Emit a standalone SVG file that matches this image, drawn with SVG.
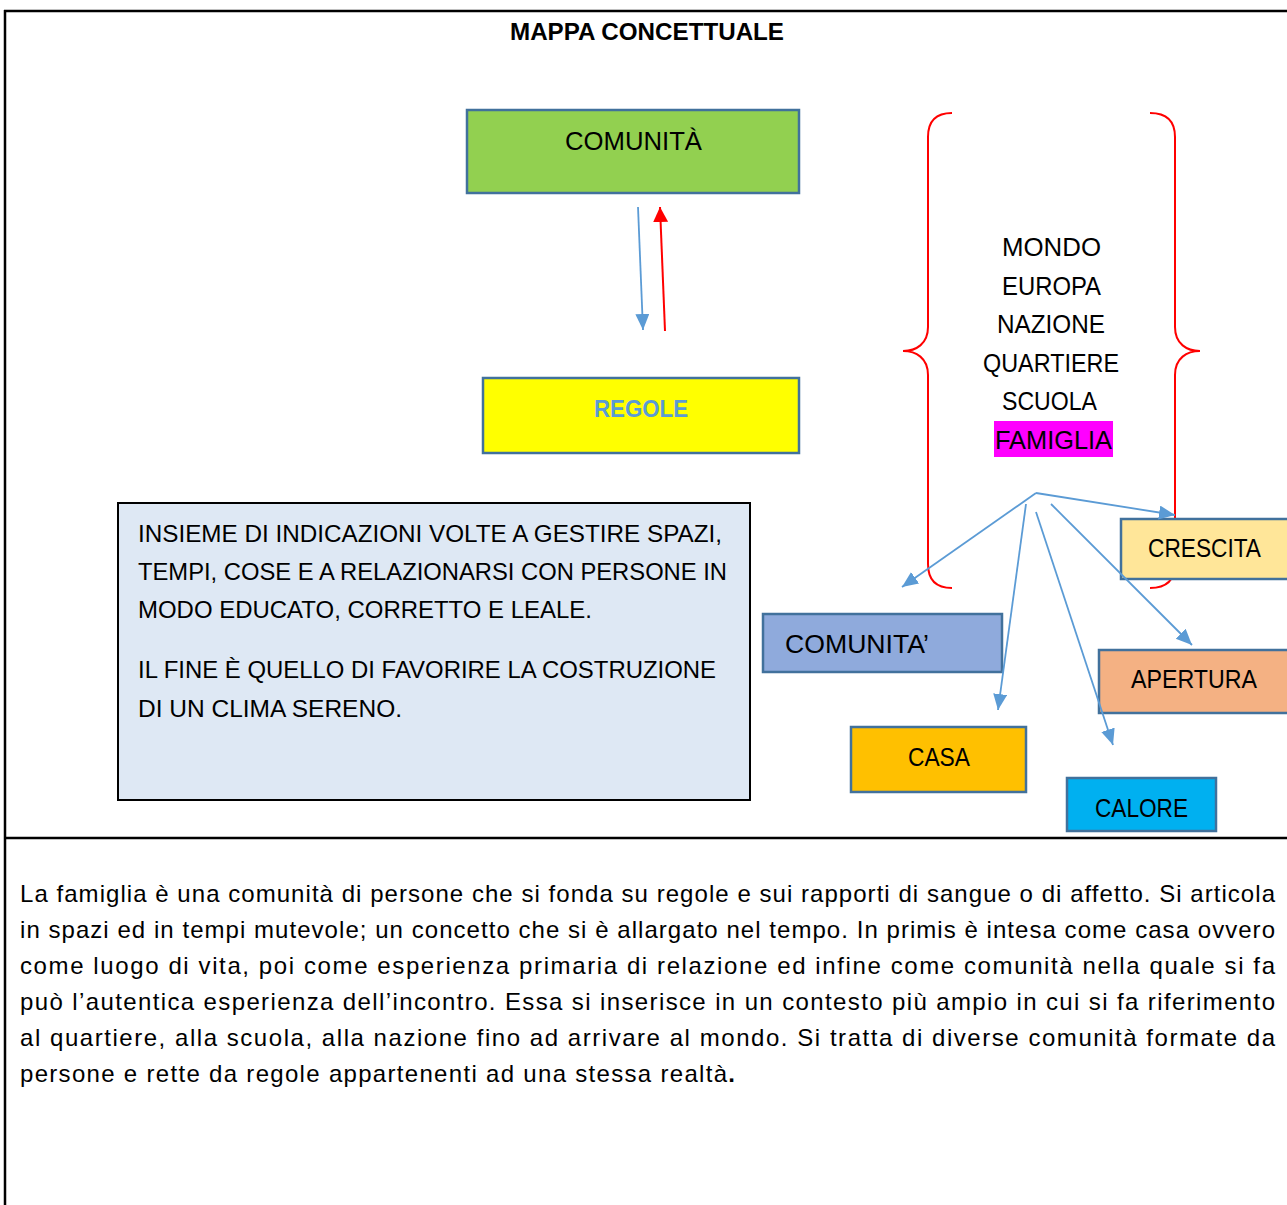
<svg xmlns="http://www.w3.org/2000/svg" width="1287" height="1205" viewBox="0 0 1287 1205">
<style>
text{font-family:"Liberation Sans","Open Sans",Arial,sans-serif;fill:#000}
.lbl{font-size:26px}
.box{stroke:#41719c;stroke-width:2.5}
.small{font-size:24px}
.par{font-size:24px}
.conn{fill:none;stroke:#5b9bd5;stroke-width:1.8}
.frame{stroke:#000;stroke-width:2.5;fill:none}
</style>
<defs>
<marker id="ab" markerUnits="userSpaceOnUse" markerWidth="20" markerHeight="20" refX="16" refY="7" orient="auto">
<path d="M0,0 L16,7 L0,14 Z" fill="#5b9bd5"/>
</marker>
<marker id="ar" markerUnits="userSpaceOnUse" markerWidth="20" markerHeight="20" refX="15" refY="7.5" orient="auto">
<path d="M0,0 L15,7.5 L0,15 Z" fill="#ff0000"/>
</marker>
</defs>
<rect width="1287" height="1205" fill="#fff"/>
<g id="frame">
<line class="frame" x1="4" y1="11" x2="1287" y2="11"/>
<line class="frame" x1="5" y1="10" x2="5" y2="1205"/>
<line class="frame" x1="4" y1="838" x2="1287" y2="838"/>
</g>
<g id="title"><text x="510" y="40" font-size="24" font-weight="bold" textLength="274" lengthAdjust="spacingAndGlyphs">MAPPA CONCETTUALE</text></g>
<g id="braces" fill="none" stroke="#ff0000" stroke-width="2">
<path d="M952,113 C936,113 928,121 928,137 L928,327 C928,344 916,351 903,351 C916,351 928,358 928,375 L928,564 C928,580 936,588 952,588"/>
<path d="M1150,113 C1166,113 1175,121 1175,137 L1175,327 C1175,344 1187,351 1200,351 C1187,351 1175,358 1175,375 L1175,564 C1175,580 1166,588 1150,588"/>
</g>
<g id="n-comunita">
<rect class="box" x="467" y="110" width="332" height="83" fill="#92d050"/>
<text class="lbl" x="565" y="150" textLength="137" lengthAdjust="spacingAndGlyphs">COMUNITÀ</text>
</g>
<g id="n-regole">
<rect class="box" x="483" y="378" width="316" height="75" fill="#ffff00"/>
<text x="594" y="417" font-size="24" font-weight="bold" style="fill:#5b9bd5" textLength="94" lengthAdjust="spacingAndGlyphs">REGOLE</text>
</g>
<g id="n-list">
<rect x="994" y="421" width="119" height="36" fill="#ff00ff"/>
<text class="lbl" x="1002" y="256" textLength="99" lengthAdjust="spacingAndGlyphs">MONDO</text>
<text class="lbl" x="1002" y="295" textLength="99" lengthAdjust="spacingAndGlyphs">EUROPA</text>
<text class="lbl" x="997" y="333" textLength="108" lengthAdjust="spacingAndGlyphs">NAZIONE</text>
<text class="lbl" x="983" y="372" textLength="136" lengthAdjust="spacingAndGlyphs">QUARTIERE</text>
<text class="lbl" x="1002" y="410" textLength="95" lengthAdjust="spacingAndGlyphs">SCUOLA</text>
<text class="lbl" x="995" y="449" textLength="117" lengthAdjust="spacingAndGlyphs">FAMIGLIA</text>
</g>
<g id="n-desc">
<rect x="118" y="503" width="632" height="297" fill="#dee8f4" stroke="#000" stroke-width="2"/>
<text class="small" x="138" y="542" textLength="584" lengthAdjust="spacingAndGlyphs">INSIEME DI INDICAZIONI VOLTE A GESTIRE SPAZI,</text>
<text class="small" x="138" y="580" textLength="589" lengthAdjust="spacingAndGlyphs">TEMPI, COSE E A RELAZIONARSI CON PERSONE IN</text>
<text class="small" x="138" y="618" textLength="454" lengthAdjust="spacingAndGlyphs">MODO EDUCATO, CORRETTO E LEALE.</text>
<text class="small" x="138" y="678" textLength="578" lengthAdjust="spacingAndGlyphs">IL FINE È QUELLO DI FAVORIRE LA COSTRUZIONE</text>
<text class="small" x="138" y="717" textLength="264" lengthAdjust="spacingAndGlyphs">DI UN CLIMA SERENO.</text>
</g>
<g id="n-crescita">
<rect class="box" x="1121" y="519" width="170" height="60" fill="#ffe699"/>
<text class="lbl" x="1148" y="557" textLength="113" lengthAdjust="spacingAndGlyphs">CRESCITA</text>
</g>
<g id="n-comunita2">
<rect class="box" x="763" y="614" width="239" height="58" fill="#8faadc"/>
<text class="lbl" x="785" y="653" textLength="144" lengthAdjust="spacingAndGlyphs">COMUNITA’</text>
</g>
<g id="n-apertura">
<rect class="box" x="1099" y="650" width="192" height="63" fill="#f4b183"/>
<text class="lbl" x="1131" y="688" textLength="126" lengthAdjust="spacingAndGlyphs">APERTURA</text>
</g>
<g id="n-casa">
<rect class="box" x="851" y="727" width="175" height="65" fill="#ffc000"/>
<text class="lbl" x="908" y="766" textLength="62" lengthAdjust="spacingAndGlyphs">CASA</text>
</g>
<g id="n-calore">
<rect class="box" x="1067" y="778" width="149" height="53" fill="#00b0f0"/>
<text class="lbl" x="1095" y="817" textLength="93" lengthAdjust="spacingAndGlyphs">CALORE</text>
</g>
<g id="connectors">
<line x1="638" y1="207" x2="643" y2="330" stroke="#5b9bd5" stroke-width="1.8" marker-end="url(#ab)"/>
<line x1="665" y1="331" x2="660" y2="207" stroke="#ff0000" stroke-width="2" marker-end="url(#ar)"/>
<line class="conn" x1="1036" y1="493" x2="1175" y2="515" marker-end="url(#ab)"/>
<line class="conn" x1="1036" y1="493" x2="902" y2="587" marker-end="url(#ab)"/>
<line class="conn" x1="1026" y1="504" x2="998" y2="710" marker-end="url(#ab)"/>
<line class="conn" x1="1036" y1="512" x2="1113" y2="745" marker-end="url(#ab)"/>
<line class="conn" x1="1051" y1="504" x2="1192" y2="645" marker-end="url(#ab)"/>
</g>
<g id="paragraph">
<text class="par" x="20" y="902" textLength="1255" lengthAdjust="spacing">La famiglia è una comunità di persone che si fonda su regole e sui rapporti di sangue o di affetto. Si articola</text>
<text class="par" x="20" y="938" textLength="1255" lengthAdjust="spacing">in spazi ed in tempi mutevole; un concetto che si è allargato nel tempo. In primis è intesa come casa ovvero</text>
<text class="par" x="20" y="974" textLength="1255" lengthAdjust="spacing">come luogo di vita, poi come esperienza primaria di relazione ed infine come comunità nella quale si fa</text>
<text class="par" x="20" y="1010" textLength="1255" lengthAdjust="spacing">può l’autentica esperienza dell’incontro. Essa si inserisce in un contesto più ampio in cui si fa riferimento</text>
<text class="par" x="20" y="1046" textLength="1255" lengthAdjust="spacing">al quartiere, alla scuola, alla nazione fino ad arrivare al mondo. Si tratta di diverse comunità formate da</text>
<text class="par" x="20" y="1082" textLength="715" lengthAdjust="spacing">persone e rette da regole appartenenti ad una stessa realtà<tspan font-weight="bold">.</tspan></text>
</g>
</svg>
